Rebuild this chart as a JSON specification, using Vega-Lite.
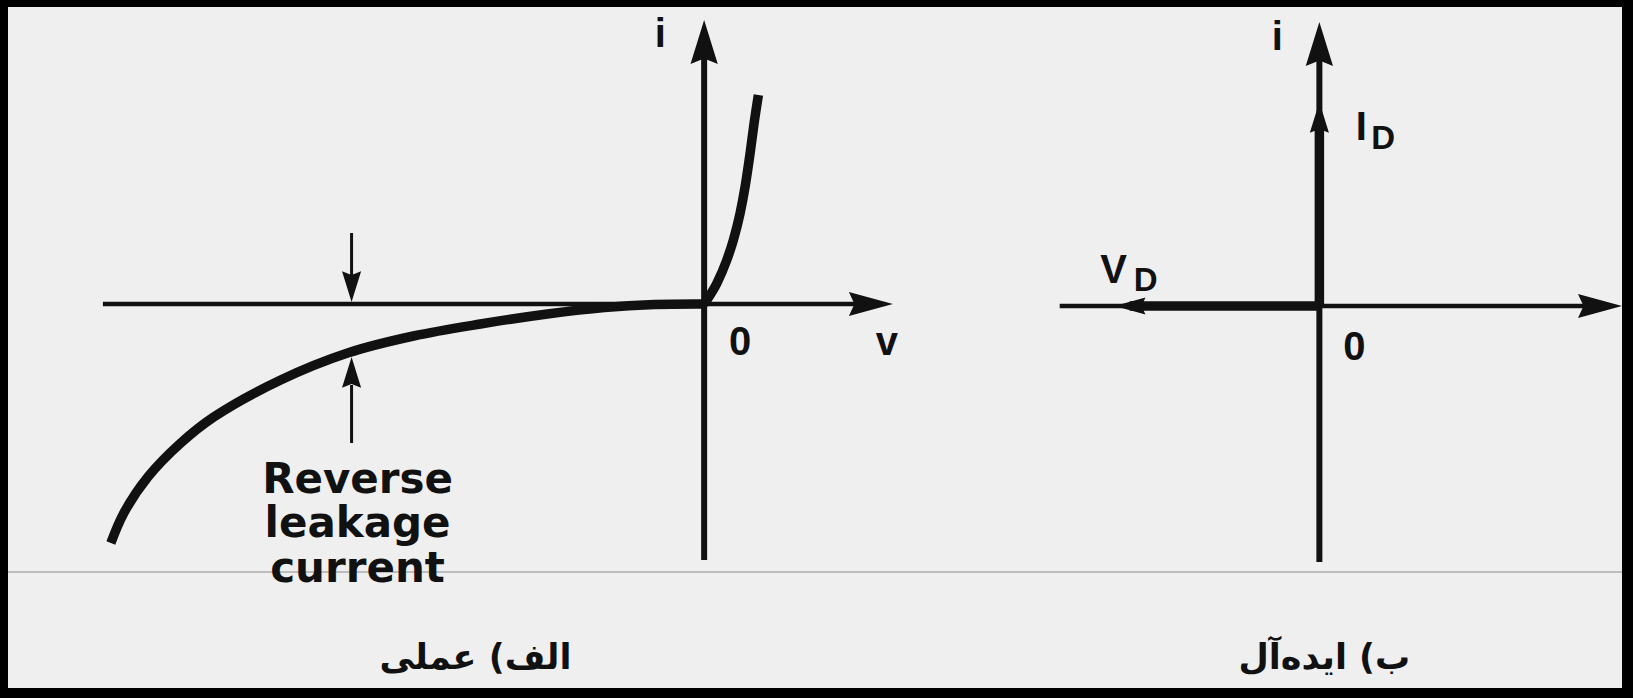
{
  "$schema": "https://vega.github.io/schema/vega-lite/v6.json",
  "background": "#000000",
  "autosize": {"type": "fit", "contains": "padding"},
  "width": 1633,
  "height": 698,
  "padding": {"left": 7, "top": 7, "right": 10, "bottom": 10},
  "view": {"fill": "#efefef", "stroke": null},
  "config": {"view": {"stroke": null}},
  "datasets": {
    "segments": [
      {"kind": "page", "x": -69.7, "y": -26.8, "x2": 91.9, "y2": -26.8},
      {"kind": "axis-h", "x": -60.2, "y": 0, "x2": 16, "y2": 0},
      {"kind": "axis-h", "x": 35.6, "y": -0.2, "x2": 89.6, "y2": -0.2},
      {"kind": "axis-v", "x": 0, "y": -25.6, "x2": 0, "y2": 26.5},
      {"kind": "axis-v", "x": 61.6, "y": -25.8, "x2": 61.6, "y2": 25.8},
      {"kind": "quantity", "x": 61.6, "y": -0.2, "x2": 61.6, "y2": 17.5},
      {"kind": "quantity", "x": 42.6, "y": -0.2, "x2": 61.6, "y2": -0.2},
      {"kind": "marker", "x": -35.3, "y": 7.1, "x2": -35.3, "y2": 1.9},
      {"kind": "marker", "x": -35.3, "y": -8.1, "x2": -35.3, "y2": -13.9}
    ],
    "heads": [
      {"kind": "axis", "points": "up", "x": 0, "y": 28.4},
      {"kind": "axis", "points": "right", "x": 18.9, "y": 0},
      {"kind": "axis", "points": "up", "x": 61.6, "y": 28.2},
      {"kind": "axis", "points": "right", "x": 91.9, "y": -0.2},
      {"kind": "marker", "points": "down", "x": -35.3, "y": 0.2},
      {"kind": "marker", "points": "up", "x": -35.3, "y": -5.3},
      {"kind": "marker", "points": "up", "x": 61.6, "y": 20.2},
      {"kind": "marker", "points": "left", "x": 41.1, "y": -0.2}
    ],
    "curve": [
      {"branch": "reverse", "x": -59.4, "y": -23.9},
      {"branch": "reverse", "x": -58.1, "y": -20.9},
      {"branch": "reverse", "x": -55.7, "y": -17.3},
      {"branch": "reverse", "x": -52.4, "y": -13.9},
      {"branch": "reverse", "x": -49.1, "y": -11.3},
      {"branch": "reverse", "x": -42.4, "y": -7.6},
      {"branch": "reverse", "x": -35.7, "y": -4.9},
      {"branch": "reverse", "x": -29.1, "y": -3.2},
      {"branch": "reverse", "x": -22.4, "y": -2.0},
      {"branch": "reverse", "x": -15.7, "y": -1.0},
      {"branch": "reverse", "x": -10, "y": -0.35},
      {"branch": "reverse", "x": -5, "y": -0.05},
      {"branch": "reverse", "x": 0, "y": 0},
      {"branch": "forward", "x": 0, "y": 0},
      {"branch": "forward", "x": 0.27, "y": 0.4},
      {"branch": "forward", "x": 1.27, "y": 2.07},
      {"branch": "forward", "x": 2.27, "y": 4.4},
      {"branch": "forward", "x": 2.93, "y": 6.4},
      {"branch": "forward", "x": 3.6, "y": 9.07},
      {"branch": "forward", "x": 4.1, "y": 11.73},
      {"branch": "forward", "x": 4.6, "y": 15.07},
      {"branch": "forward", "x": 5.0, "y": 18.07},
      {"branch": "forward", "x": 5.43, "y": 20.9}
    ],
    "labels": [
      {"role": "axis", "label": "i", "x": -4.4, "y": 26.9},
      {"role": "axis", "label": "0", "x": 3.6, "y": -3.9},
      {"role": "axis", "label": "v", "x": 18.3, "y": -3.9},
      {"role": "axis", "label": "i", "x": 57.4, "y": 26.6},
      {"role": "axis", "label": "0", "x": 65.1, "y": -4.4},
      {"role": "axis", "label": "I", "x": 65.8, "y": 17.6},
      {"role": "axis", "label": "V", "x": 41.0, "y": 3.3},
      {"role": "subscript", "label": "D", "x": 68.0, "y": 16.5},
      {"role": "subscript", "label": "D", "x": 44.2, "y": 2.3},
      {"role": "note", "label": "Reverse", "x": -34.7, "y": -18.9},
      {"role": "note", "label": "leakage", "x": -34.7, "y": -23.3},
      {"role": "note", "label": "current", "x": -34.7, "y": -27.8},
      {"role": "caption", "label": "الف) عملی", "x": -22.9, "y": -35.4},
      {"role": "caption", "label": "ب) ایده‌آل", "x": 62.1, "y": -35.4}
    ]
  },
  "encoding": {
    "x": {"field": "x", "type": "quantitative", "scale": {"domain": [-69.7, 91.9], "nice": false, "zero": false}, "axis": null},
    "y": {"field": "y", "type": "quantitative", "scale": {"domain": [-38.4, 29.7], "nice": false, "zero": false}, "axis": null}
  },
  "layer": [
    {
      "data": {"name": "segments"},
      "transform": [{"filter": "datum.kind == 'page'"}],
      "mark": {"type": "rule", "color": "#bdbdbd", "strokeWidth": 2},
      "encoding": {"x2": {"field": "x2"}, "y2": {"field": "y2"}}
    },
    {
      "data": {"name": "segments"},
      "transform": [{"filter": "datum.kind == 'axis-h'"}],
      "mark": {"type": "rule", "color": "#111111", "strokeWidth": 4.5},
      "encoding": {"x2": {"field": "x2"}, "y2": {"field": "y2"}}
    },
    {
      "data": {"name": "segments"},
      "transform": [{"filter": "datum.kind == 'axis-v'"}],
      "mark": {"type": "rule", "color": "#111111", "strokeWidth": 6},
      "encoding": {"x2": {"field": "x2"}, "y2": {"field": "y2"}}
    },
    {
      "data": {"name": "segments"},
      "transform": [{"filter": "datum.kind == 'quantity'"}],
      "mark": {"type": "rule", "color": "#111111", "strokeWidth": 9.5},
      "encoding": {"x2": {"field": "x2"}, "y2": {"field": "y2"}}
    },
    {
      "data": {"name": "segments"},
      "transform": [{"filter": "datum.kind == 'marker'"}],
      "mark": {"type": "rule", "color": "#111111", "strokeWidth": 3},
      "encoding": {"x2": {"field": "x2"}, "y2": {"field": "y2"}}
    },
    {
      "data": {"name": "curve"},
      "transform": [{"filter": "datum.branch == 'reverse'"}],
      "mark": {"type": "line", "color": "#111111", "strokeWidth": 9.5, "interpolate": "catmull-rom", "strokeCap": "butt"},
      "encoding": {}
    },
    {
      "data": {"name": "curve"},
      "transform": [{"filter": "datum.branch == 'forward'"}],
      "mark": {"type": "line", "color": "#111111", "strokeWidth": 9.5, "interpolate": "monotone", "strokeCap": "butt"},
      "encoding": {}
    },
    {
      "data": {"name": "heads"},
      "transform": [{"filter": "datum.kind == 'axis'"}],
      "mark": {"type": "point", "filled": true, "opacity": 1, "color": "#111111", "strokeWidth": 0, "size": 1936, "clip": true},
      "encoding": {
        "shape": {"field": "points", "type": "nominal", "legend": null,
          "scale": {"domain": ["up", "down", "left", "right"],
            "range": ["M0,0L0.62,2L0,1.75L-0.62,2Z", "M0,0L0.62,-2L0,-1.75L-0.62,-2Z", "M0,0L2,0.55L1.75,0L2,-0.55Z", "M0,0L-2,0.55L-1.75,0L-2,-0.55Z"]}}
      }
    },
    {
      "data": {"name": "heads"},
      "transform": [{"filter": "datum.kind == 'marker'"}],
      "mark": {"type": "point", "filled": true, "opacity": 1, "color": "#111111", "strokeWidth": 0, "size": 950},
      "encoding": {
        "shape": {"field": "points", "type": "nominal", "legend": null}
      }
    },
    {
      "data": {"name": "labels"},
      "transform": [{"filter": "datum.role == 'axis'"}],
      "mark": {"type": "text", "font": "Liberation Sans", "fontWeight": "bold", "fontSize": 40, "color": "#111111", "align": "center", "baseline": "middle"},
      "encoding": {"text": {"field": "label"}}
    },
    {
      "data": {"name": "labels"},
      "transform": [{"filter": "datum.role == 'subscript'"}],
      "mark": {"type": "text", "font": "Liberation Sans", "fontWeight": "bold", "fontSize": 33, "color": "#111111", "align": "center", "baseline": "middle"},
      "encoding": {"text": {"field": "label"}}
    },
    {
      "data": {"name": "labels"},
      "transform": [{"filter": "datum.role == 'note'"}],
      "mark": {"type": "text", "font": "DejaVu Sans", "fontWeight": "bold", "fontSize": 42, "color": "#111111", "align": "center", "baseline": "alphabetic"},
      "encoding": {"text": {"field": "label"}}
    },
    {
      "data": {"name": "labels"},
      "transform": [{"filter": "datum.role == 'caption'"}],
      "mark": {"type": "text", "font": "DejaVu Sans", "fontWeight": "bold", "fontSize": 35, "color": "#111111", "align": "center", "baseline": "middle"},
      "encoding": {"text": {"field": "label"}}
    }
  ]
}
